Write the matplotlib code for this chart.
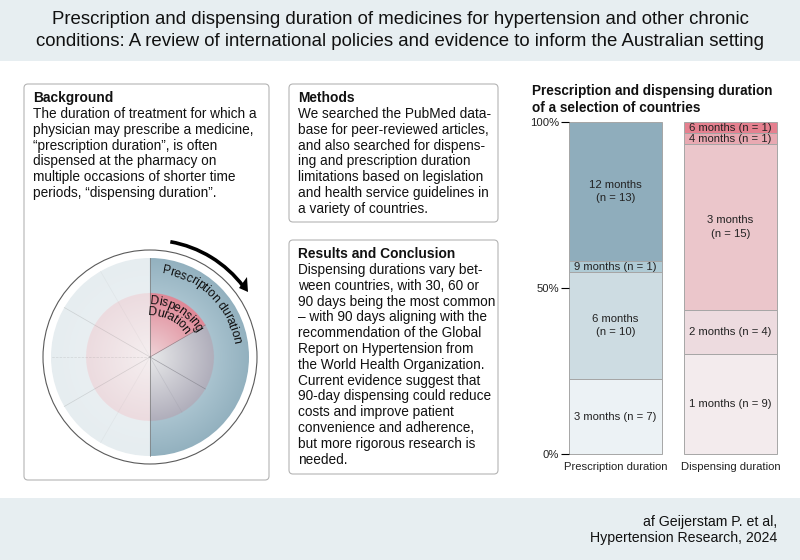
#!/usr/bin/env python3
# graphical abstract: text panels, pie-like schematic and two stacked bars
import numpy as np
import matplotlib
matplotlib.use('Agg')
import matplotlib.pyplot as plt
from matplotlib.colors import to_rgb
from matplotlib.font_manager import FontProperties
from matplotlib.patches import Rectangle, FancyBboxPatch, Circle, Polygon, Arc

plt.rcParams['font.family'] = ['Liberation Sans', 'DejaVu Sans']

title_lines = ['Prescription and dispensing duration of medicines for hypertension and other chronic',
               'conditions: A review of international policies and evidence to inform the Australian setting']
background_text = ['The duration of treatment for which a', 'physician may prescribe a medicine,',
                   '“prescription duration”, is often', 'dispensed at the pharmacy on',
                   'multiple occasions of shorter time', 'periods, “dispensing duration”.']
methods_text = ['We searched the PubMed data-', 'base for peer-reviewed articles,',
                'and also searched for dispens-', 'ing and prescription duration',
                'limitations based on legislation', 'and health service guidelines in', 'a variety of countries.']
results_text = ['Dispensing durations vary bet-', 'ween countries, with 30, 60 or', '90 days being the most common',
                '– with 90 days aligning with the', 'recommendation of the Global', 'Report on Hypertension from',
                'the World Health Organization.', 'Current evidence suggest that', '90-day dispensing could reduce',
                'costs and improve patient', 'convenience and adherence,', 'but more rigorous research is', 'needed.']

categories = ['Prescription duration', 'Dispensing duration']
presc_labels = ['3 months (n = 7)', '6 months\n(n = 10)', '9 months (n = 1)', '12 months\n(n = 13)']
presc_n = [7, 10, 1, 13]
presc_colors = ['#ecf2f5', '#cddce2', '#afcbd5', '#8fadbc']
disp_labels = ['1 months (n = 9)', '2 months (n = 4)', '3 months\n(n = 15)', '4 months (n = 1)', '6 months (n = 1)']
disp_n = [9, 4, 15, 1, 1]
disp_colors = ['#f3ebed', '#eddbdf', '#ebc6cb', '#e8a9b2', '#e5808f']

fig = plt.figure(figsize=(8, 5.6), dpi=100)
bg = fig.add_axes([0, 0, 1, 1])
bg.axis('off')

# banners
bg.add_patch(Rectangle((0, 0), 800, 61, color='#e7eef1', lw=0))
bg.add_patch(Rectangle((0, 498), 800, 62, color='#e7eef1', lw=0))
for i, line in enumerate(title_lines):
    bg.text(400, 20 + i * 22, line, ha='center', va='center', fontsize=13.45, color='#111111')
bg.text(777, 522, 'af Geijerstam P. et al,', ha='right', va='center', fontsize=10.15, color='#111111')
bg.text(777, 538, 'Hypertension Research, 2024', ha='right', va='center', fontsize=10.15, color='#111111')


def panel(x0, y0, x1, y1, heading, lines, text_x):
    bg.add_patch(FancyBboxPatch((x0, y0), x1 - x0, y1 - y0, boxstyle='round,pad=0,rounding_size=4',
                                fc='white', ec='#b4b4b4', lw=0.8))
    bg.text(text_x, y0 + 14, heading, fontsize=9.95, fontweight='bold', va='center', color='#111111')
    for i, line in enumerate(lines):
        bg.text(text_x, y0 + 30 + i * 15.8, line, fontsize=9.85, va='center', color='#111111')


panel(24, 84, 269, 480, 'Background', background_text, 33)
panel(289, 84, 498, 222, 'Methods', methods_text, 298)
panel(289, 240, 498, 474, 'Results and Conclusion', results_text, 298)

# schematic
cx, cy = 150, 357
bg.add_patch(Circle((cx, cy), 107, fc='none', ec='#5a5a5a', lw=0.8))

yy, xx = np.mgrid[cy - 100:cy + 100:800j, cx - 100:cx + 100:800j]
rr = np.hypot(xx - cx, yy - cy)
theta = np.degrees(np.arctan2(cy - yy, xx - cx))


def blend(c0, c1, t):
    return np.array(to_rgb(c0)) * (1 - t[..., None]) + np.array(to_rgb(c1)) * t[..., None]


t_in = np.clip(rr / 64, 0, 1)
t_out = np.clip((rr - 64) / 35, 0, 1)
rgb = blend('#e9eff2', '#e6edf0', t_out)
inner = rr <= 64
rgb[inner] = blend('#f5eff0', '#ecdbdf', t_in)[inner]
right = xx >= cx
rgb[right] = blend('#a9c3cf', '#93b1bf', t_out)[right]
rgb[right & inner] = blend('#e8e9ea', '#b0aebb', t_in)[right & inner]
red = inner & right & (theta >= 30)
rgb[red] = blend('#efd4d8', '#df8796', t_in)[red]
im = bg.imshow(rgb, extent=(cx - 100, cx + 100, cy + 100, cy - 100), aspect='auto', zorder=2)
im.set_clip_path(Circle((cx, cy), 99, transform=bg.transData))
bg.set_xlim(0, 800)
bg.set_ylim(560, 0)

for ang, r, col, alpha in [(30, 64, '#8a7078', 0.8), (330, 64, '#777780', 0.6), (300, 64, '#9a9aa5', 0.3),
                           (120, 99, '#a5a5a5', 0.12), (150, 99, '#7a7a7a', 0.25), (210, 99, '#7a7a7a', 0.25),
                           (240, 99, '#a5a5a5', 0.12), (180, 99, '#8a8a8a', 0.25)]:
    a = np.deg2rad(ang)
    bg.plot([cx, cx + r * np.cos(a)], [cy, cy - r * np.sin(a)], color=col, lw=0.5, alpha=alpha, zorder=3,
            ls='--' if ang == 180 else '-')
bg.plot([cx, cx], [cy - 99, cy + 99], color='#777777', lw=0.5, zorder=3)


def curved(text, radius, start, size):
    # letters placed one by one along a circle, spaced by the measured text width
    renderer = fig.canvas.get_renderer()
    prop = FontProperties(family='Liberation Sans', size=size)
    for i, ch in enumerate(text):
        w_all = renderer.get_text_width_height_descent(text[:i + 1].replace(' ', '\u00a0'), prop, False)[0]
        w_ch = renderer.get_text_width_height_descent(ch.replace(' ', '\u00a0'), prop, False)[0]
        a = start - np.degrees((w_all - w_ch / 2) / radius)
        r = np.deg2rad(a)
        bg.text(cx + radius * np.cos(r), cy - radius * np.sin(r), ch, rotation=a - 90,
                rotation_mode='anchor', ha='center', va='center_baseline', fontsize=size, zorder=5,
                color='#111111')


curved('Prescription duration', 89, 82, 8.8)
curved('Dispensing', 57, 90, 8.8)
curved('Duration', 46, 92, 8.8)

bg.add_patch(Arc((cx, cy), 234, 234, theta1=-80, theta2=-37, ec='black', lw=2.6, zorder=5))
bg.add_patch(Polygon([(239, 288), (248, 292), (247, 277)], fc='black', ec='none', zorder=5))

# stacked bars
bg.text(532, 91, 'Prescription and dispensing duration', fontsize=9.85, fontweight='bold', va='center',
        color='#111111')
bg.text(532, 108, 'of a selection of countries', fontsize=9.85, fontweight='bold', va='center', color='#111111')

ax = fig.add_axes([569 / 800, 1 - 454 / 560, (777 - 569) / 800, (454 - 122) / 560])
ax.patch.set_alpha(0)
for x, ns, labels, colors in [(0, presc_n, presc_labels, presc_colors), (1, disp_n, disp_labels, disp_colors)]:
    bottom = 0
    total = sum(ns)
    for n, label, col in zip(ns, labels, colors):
        h = n / total * 100
        ax.bar(x, h, bottom=bottom, width=93 / 115, color=col, edgecolor='#a6a6a6', linewidth=0.7, clip_on=False)
        ax.text(x, bottom + h / 2, label, ha='center', va='center', fontsize=8.1, color='#222222',
                linespacing=1.45)
        bottom += h
ax.set_xlim(-93 / 230, 1 + 93 / 230)
ax.set_ylim(0, 100)
ax.set_xticks([0, 1], categories)
ax.set_yticks([0, 50, 100], ['0%', '50%', '100%'])
ax.tick_params(axis='x', length=0, labelsize=8.1, pad=6, labelcolor='#222222')
ax.tick_params(axis='y', length=6, width=0.8, labelsize=8.1, pad=1, labelcolor='#222222')
for s in ['top', 'right', 'bottom', 'left']:
    ax.spines[s].set_visible(False)

fig.savefig('out.png', dpi=100)
